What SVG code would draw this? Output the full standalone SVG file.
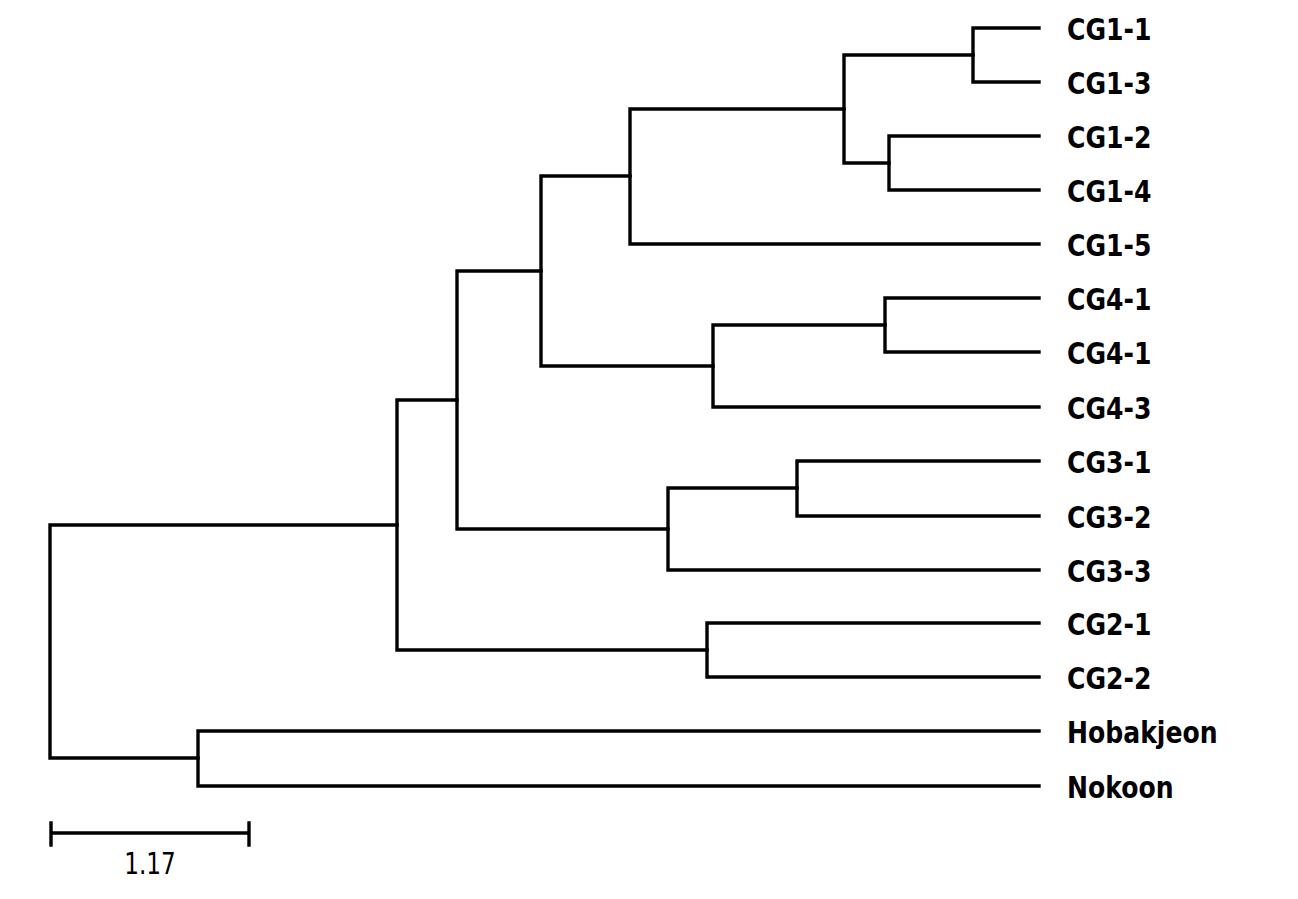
<svg xmlns="http://www.w3.org/2000/svg" width="1298" height="899" viewBox="0 0 1298 899">
<style>
.e{fill:none;stroke:#000;stroke-width:3.4;stroke-linecap:square;stroke-linejoin:miter}
.lb{font-family:"DejaVu Sans Condensed","DejaVu Sans",sans-serif;font-size:31px;font-weight:bold;fill:#000}
.sc{font-family:"DejaVu Sans Condensed","DejaVu Sans",sans-serif;font-size:30px;fill:#000}
</style>
<rect width="1298" height="899" fill="#fff"/>
<g id="connectors">
<path class="e" d="M1039,28H973V82H1039"/>
<path class="e" d="M1039,136H889V190H1039"/>
<path class="e" d="M973,55H844V163H889"/>
<path class="e" d="M844,109H630V244H1039"/>
<path class="e" d="M1039,298H885V352H1039"/>
<path class="e" d="M885,325H713V407H1039"/>
<path class="e" d="M630,176H541V366H713"/>
<path class="e" d="M1039,461H797V516H1039"/>
<path class="e" d="M797,488H668V570H1039"/>
<path class="e" d="M541,271H457V529H668"/>
<path class="e" d="M1039,623H707V677H1039"/>
<path class="e" d="M457,400H397V650H707"/>
<path class="e" d="M1039,731H198V786H1039"/>
<path class="e" d="M397,525H50V758H198"/>
</g>
<g id="leaf-CG1-1"><text class="lb" transform="translate(1067,39.5) scale(0.9,1)">CG1-1</text></g>
<g id="leaf-CG1-3"><text class="lb" transform="translate(1067,93.5) scale(0.9,1)">CG1-3</text></g>
<g id="leaf-CG1-2"><text class="lb" transform="translate(1067,147.5) scale(0.9,1)">CG1-2</text></g>
<g id="leaf-CG1-4"><text class="lb" transform="translate(1067,201.5) scale(0.9,1)">CG1-4</text></g>
<g id="leaf-CG1-5"><text class="lb" transform="translate(1067,255.5) scale(0.9,1)">CG1-5</text></g>
<g id="leaf-CG4-1a"><text class="lb" transform="translate(1067,309.5) scale(0.9,1)">CG4-1</text></g>
<g id="leaf-CG4-1b"><text class="lb" transform="translate(1067,363.5) scale(0.9,1)">CG4-1</text></g>
<g id="leaf-CG4-3"><text class="lb" transform="translate(1067,418.5) scale(0.9,1)">CG4-3</text></g>
<g id="leaf-CG3-1"><text class="lb" transform="translate(1067,472.5) scale(0.9,1)">CG3-1</text></g>
<g id="leaf-CG3-2"><text class="lb" transform="translate(1067,527.5) scale(0.9,1)">CG3-2</text></g>
<g id="leaf-CG3-3"><text class="lb" transform="translate(1067,581.5) scale(0.9,1)">CG3-3</text></g>
<g id="leaf-CG2-1"><text class="lb" transform="translate(1067,634.5) scale(0.9,1)">CG2-1</text></g>
<g id="leaf-CG2-2"><text class="lb" transform="translate(1067,688.5) scale(0.9,1)">CG2-2</text></g>
<g id="leaf-Hobakjeon"><text class="lb" transform="translate(1067,742.5) scale(0.9,1)">Hobakjeon</text></g>
<g id="leaf-Nokoon"><text class="lb" transform="translate(1067,797.5) scale(0.9,1)">Nokoon</text></g>
<g id="scale-bar">
<path class="e" d="M51,833H249M51,823V845M249,823V845" stroke-linecap="butt"/>
<text class="sc" transform="translate(150,874) scale(0.86,1)" text-anchor="middle">1.17</text>
</g>
</svg>
